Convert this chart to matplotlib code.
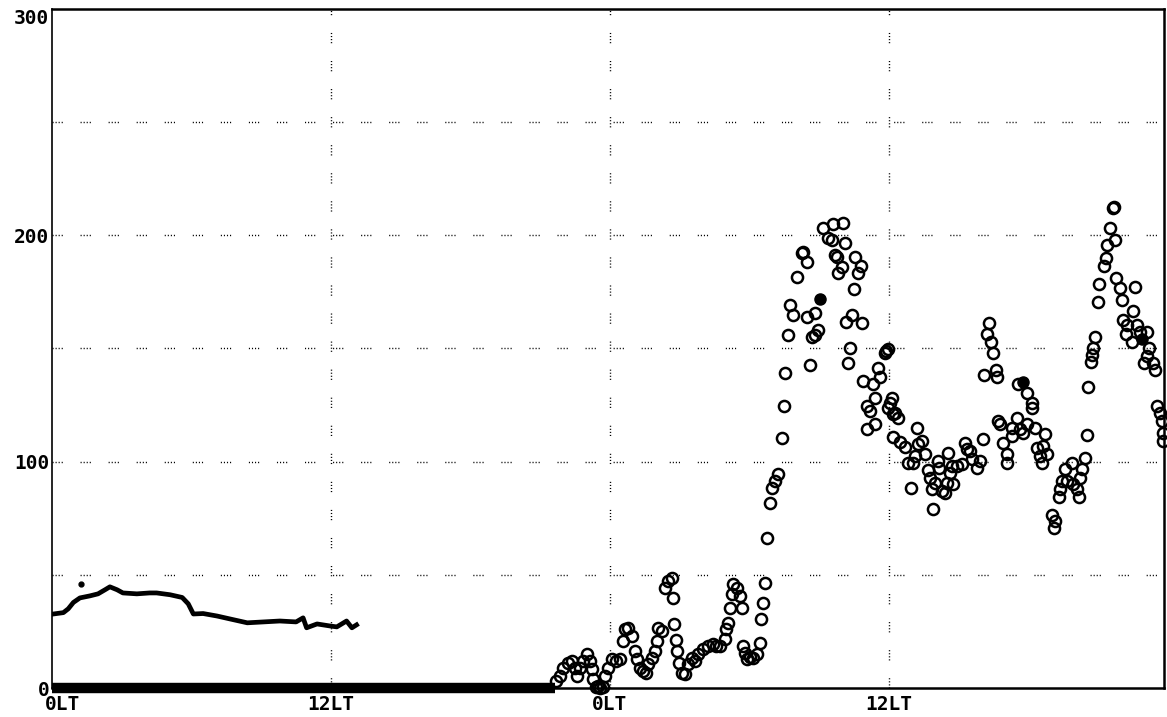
import matplotlib
matplotlib.use("Agg")
import matplotlib.pyplot as plt
import matplotlib.transforms as mtransforms

# ---- data (hours from first 0LT, value) ----
# dense trace in the first half day
line_hours = [0.06, 0.49, 0.70, 0.92, 1.20, 1.63, 1.98, 2.28, 2.49, 2.80,
              3.05, 3.65, 4.20, 4.50, 5.08, 5.60, 5.86, 6.08, 6.50, 7.10,
              7.66, 8.40, 9.10, 9.80, 10.50, 10.80, 10.95, 11.40, 11.96, 12.25,
              12.67, 12.90, 13.10]
line_values = [32.7, 33.3, 35.0, 37.8, 39.8, 40.7, 41.6, 43.4, 44.7, 43.4,
               42.0, 41.6, 42.0, 42.0, 41.2, 40.0, 37.2, 32.7, 32.9, 31.8,
               30.5, 28.8, 29.2, 29.6, 29.2, 31.0, 26.6, 28.3, 27.4, 27.0,
               29.6, 26.6, 27.9]
stray_hour = [1.25]
stray_value = [46.0]

# circles sitting on zero before the rise
zero_span_hours = [0.0, 21.65]
zero_span_values = [0.0, 0.0]

circle_hours = [
    21.68, 21.85, 21.98, 22.19, 22.37, 22.49, 22.58, 22.71, 22.84, 23.01,
    23.14, 23.23, 23.27, 23.40, 23.48, 23.57, 23.70, 23.78, 23.91, 24.09,
    24.26, 24.43, 24.56, 24.65, 24.77, 24.95, 25.07, 25.16, 25.29, 25.42,
    25.55, 25.63, 25.81, 25.94, 26.02, 26.06, 26.24, 26.37, 26.49, 26.67,
    26.71, 26.75, 26.84, 26.88, 26.97, 27.10, 27.23, 27.35, 27.53, 27.66,
    27.78, 28.00, 28.21, 28.43, 28.56, 28.73, 28.95, 28.99, 29.08, 29.16,
    29.25, 29.29, 29.46, 29.59, 29.68, 29.72, 29.81, 29.89, 30.02, 30.15,
    30.32, 30.45, 30.49, 30.58, 30.67, 30.75, 30.88, 30.97, 31.10, 31.23,
    31.40, 31.48, 31.53, 31.66, 31.74, 31.87, 32.04, 32.26, 32.30, 32.47,
    32.47, 32.60, 32.69, 32.82, 32.82, 32.95, 33.16, 33.38, 33.55, 33.59,
    33.68, 33.76, 33.81, 33.98, 34.02, 34.11, 34.15, 34.24, 34.32, 34.41,
    34.49, 34.54, 34.67, 34.80, 34.84, 34.88, 35.05, 35.05, 35.18, 35.31,
    35.40, 35.40, 35.53, 35.61, 35.83, 35.88, 35.96, 35.96, 36.04, 36.13,
    36.17, 36.17, 36.26, 36.39, 36.47, 36.69, 36.82, 36.95, 37.03, 37.12,
    37.20, 37.25, 37.42, 37.55, 37.68, 37.76, 37.85, 37.89, 37.98, 38.11,
    38.15, 38.28, 38.41, 38.49, 38.54, 38.62, 38.71, 38.75, 38.92, 39.14,
    39.27, 39.35, 39.48, 39.57, 39.78, 39.91, 40.04, 40.09, 40.22, 40.30,
    40.39, 40.47, 40.60, 40.65, 40.69, 40.77, 40.90, 41.08, 41.08, 41.29,
    41.29, 41.51, 41.55, 41.63, 41.76, 41.94, 41.94, 42.15, 42.15, 42.28,
    42.37, 42.49, 42.58, 42.62, 42.71, 42.80, 43.01, 43.10, 43.14, 43.31,
    43.35, 43.44, 43.57, 43.66, 43.87, 43.91, 44.09, 44.17, 44.22, 44.30,
    44.43, 44.52, 44.56, 44.69, 44.73, 44.77, 44.86, 44.99, 45.03, 45.25,
    45.33, 45.38, 45.51, 45.63, 45.66, 45.72, 45.76, 45.94, 46.02, 46.06,
    46.19, 46.24, 46.45, 46.49, 46.58, 46.67, 46.80, 46.97, 47.10, 47.10,
    47.18, 47.35, 47.44, 47.53, 47.66, 47.74, 47.78, 47.78]
circle_values = [
    3.1, 5.3, 8.9, 11.1, 11.9, 8.9, 5.3, 8.9, 11.9, 15.0,
    11.9, 8.4, 4.0, 0.5, 0.9, 0.0, 0.5, 5.3, 8.9, 12.8,
    11.9, 12.8, 20.8, 26.1, 26.6, 23.0, 16.4, 12.8, 8.9, 7.5,
    6.6, 10.6, 13.3, 16.4, 20.8, 26.6, 25.2, 44.3, 47.3, 48.7,
    39.8, 28.3, 21.2, 16.4, 11.1, 6.6, 6.2, 10.6, 13.3, 11.9,
    15.0, 17.3, 18.6, 19.5, 18.6, 18.6, 21.7, 26.1, 28.8, 35.4,
    41.6, 46.0, 44.3, 40.7, 35.4, 18.6, 15.5, 12.8, 13.7, 13.3,
    15.0, 19.9, 30.5, 37.6, 46.5, 66.4, 81.9, 88.5, 91.6, 94.7,
    110.6, 124.8, 139.0, 155.8, 169.0, 164.6, 181.4, 192.0, 192.5, 188.1,
    163.7, 142.5, 154.9, 155.8, 165.9, 158.0, 203.1, 198.7, 197.8, 204.9,
    191.2, 190.3, 183.2, 185.9, 205.3, 196.5, 161.5, 143.4, 150.4, 164.6,
    176.1, 190.3, 183.2, 186.3, 161.1, 135.8, 124.8, 114.6, 122.6, 134.1,
    128.3, 116.8, 141.6, 137.2, 148.2, 149.0, 149.6, 123.9, 125.7, 128.3,
    121.2, 111.1, 121.7, 119.5, 108.9, 106.6, 99.6, 88.5, 99.6, 102.7,
    115.0, 108.0, 109.3, 103.5, 96.5, 92.9, 88.1, 79.2, 90.7, 100.5,
    97.3, 87.2, 86.3, 90.7, 104.0, 95.1, 98.2, 90.3, 98.2, 99.1,
    108.4, 105.8, 104.9, 101.3, 97.3, 100.5, 110.2, 138.1, 156.6, 161.1,
    152.7, 148.2, 140.7, 137.2, 118.1, 116.8, 108.4, 103.5, 99.6, 115.0,
    111.5, 119.5, 134.5, 114.6, 112.8, 130.5, 116.8, 125.7, 123.5, 115.0,
    106.2, 102.7, 99.6, 107.1, 112.4, 103.5, 76.6, 70.8, 73.9, 84.5,
    88.1, 91.6, 96.9, 91.6, 99.6, 90.3, 88.1, 84.5, 92.9, 96.9,
    101.8, 112.0, 133.2, 144.2, 147.3, 150.4, 154.9, 170.4, 178.3, 186.3,
    189.8, 195.6, 203.1, 212.0, 212.6, 197.8, 181.0, 176.6, 171.3, 162.4,
    156.2, 160.6, 152.7, 166.4, 177.0, 160.6, 157.1, 143.4, 146.9, 157.1,
    150.0, 143.8, 140.3, 124.8, 121.7, 118.1, 112.8, 109.3]

filled_hours = [33.03, 41.76, 46.88]
filled_values = [171.7, 135.0, 154.0]

tick_hours = [0, 12, 24, 36]
tick_labels = ["0LT", "12LT", "0LT", "12LT"]
y_ticks = [0, 100, 200, 300]
y_grid = [50, 100, 150, 200, 250]

# ---- plot ----
fig = plt.figure(figsize=(11.67, 7.17), dpi=100)
ax = fig.add_axes([52 / 1167, 1 - 688 / 717, (1164 - 52) / 1167, (688 - 9) / 717])

dots = (0, (0.8, 1.4, 0.8, 1.4, 0.8, 1.4, 0.8, 12.8))
for g in y_grid:
    ax.axhline(g, color="black", lw=1.0, linestyle=dots, zorder=1)
for t in tick_hours[1:]:
    ax.axvline(t, color="black", lw=1.0, linestyle=dots, zorder=1)

ax.plot(zero_span_hours, zero_span_values, color="black", lw=7.5,
        solid_capstyle="butt", clip_on=False, zorder=3)
ax.plot(line_hours, line_values, color="black", lw=3.4,
        solid_joinstyle="round", zorder=3)
ax.plot(stray_hour, stray_value, "o", color="black", ms=3.5, zorder=3)
ax.plot(circle_hours, circle_values, "o", mfc="none", mec="black", ms=8,
        mew=1.8, clip_on=False, zorder=4)
ax.plot(filled_hours, filled_values, "o", color="black", ms=8, zorder=4)

ax.set_xlim(0, 47.83)
ax.set_ylim(0, 300)
ax.set_xticks(tick_hours)
ax.set_xticklabels(tick_labels)
ax.set_yticks(y_ticks)
ax.set_yticklabels([str(v) for v in y_ticks])
ax.tick_params(length=0, labelsize=14, pad=2)
ax.tick_params(axis="x", pad=5)
for lab in ax.get_xticklabels() + ax.get_yticklabels():
    lab.set_fontfamily("DejaVu Sans Mono")
    lab.set_fontweight("bold")

# first label sits just right of the axis corner
first = ax.get_xticklabels()[0]
first.set_horizontalalignment("left")
first.set_transform(first.get_transform() +
                    mtransforms.ScaledTranslation(-7 / 100, 0, fig.dpi_scale_trans))
# top label hangs below the frame corner
ax.get_yticklabels()[-1].set_verticalalignment("top")

for side in ["top", "right", "bottom"]:
    ax.spines[side].set_linewidth(1.8)
ax.spines["left"].set_linewidth(1.2)

fig.savefig("out.png", dpi=100)
